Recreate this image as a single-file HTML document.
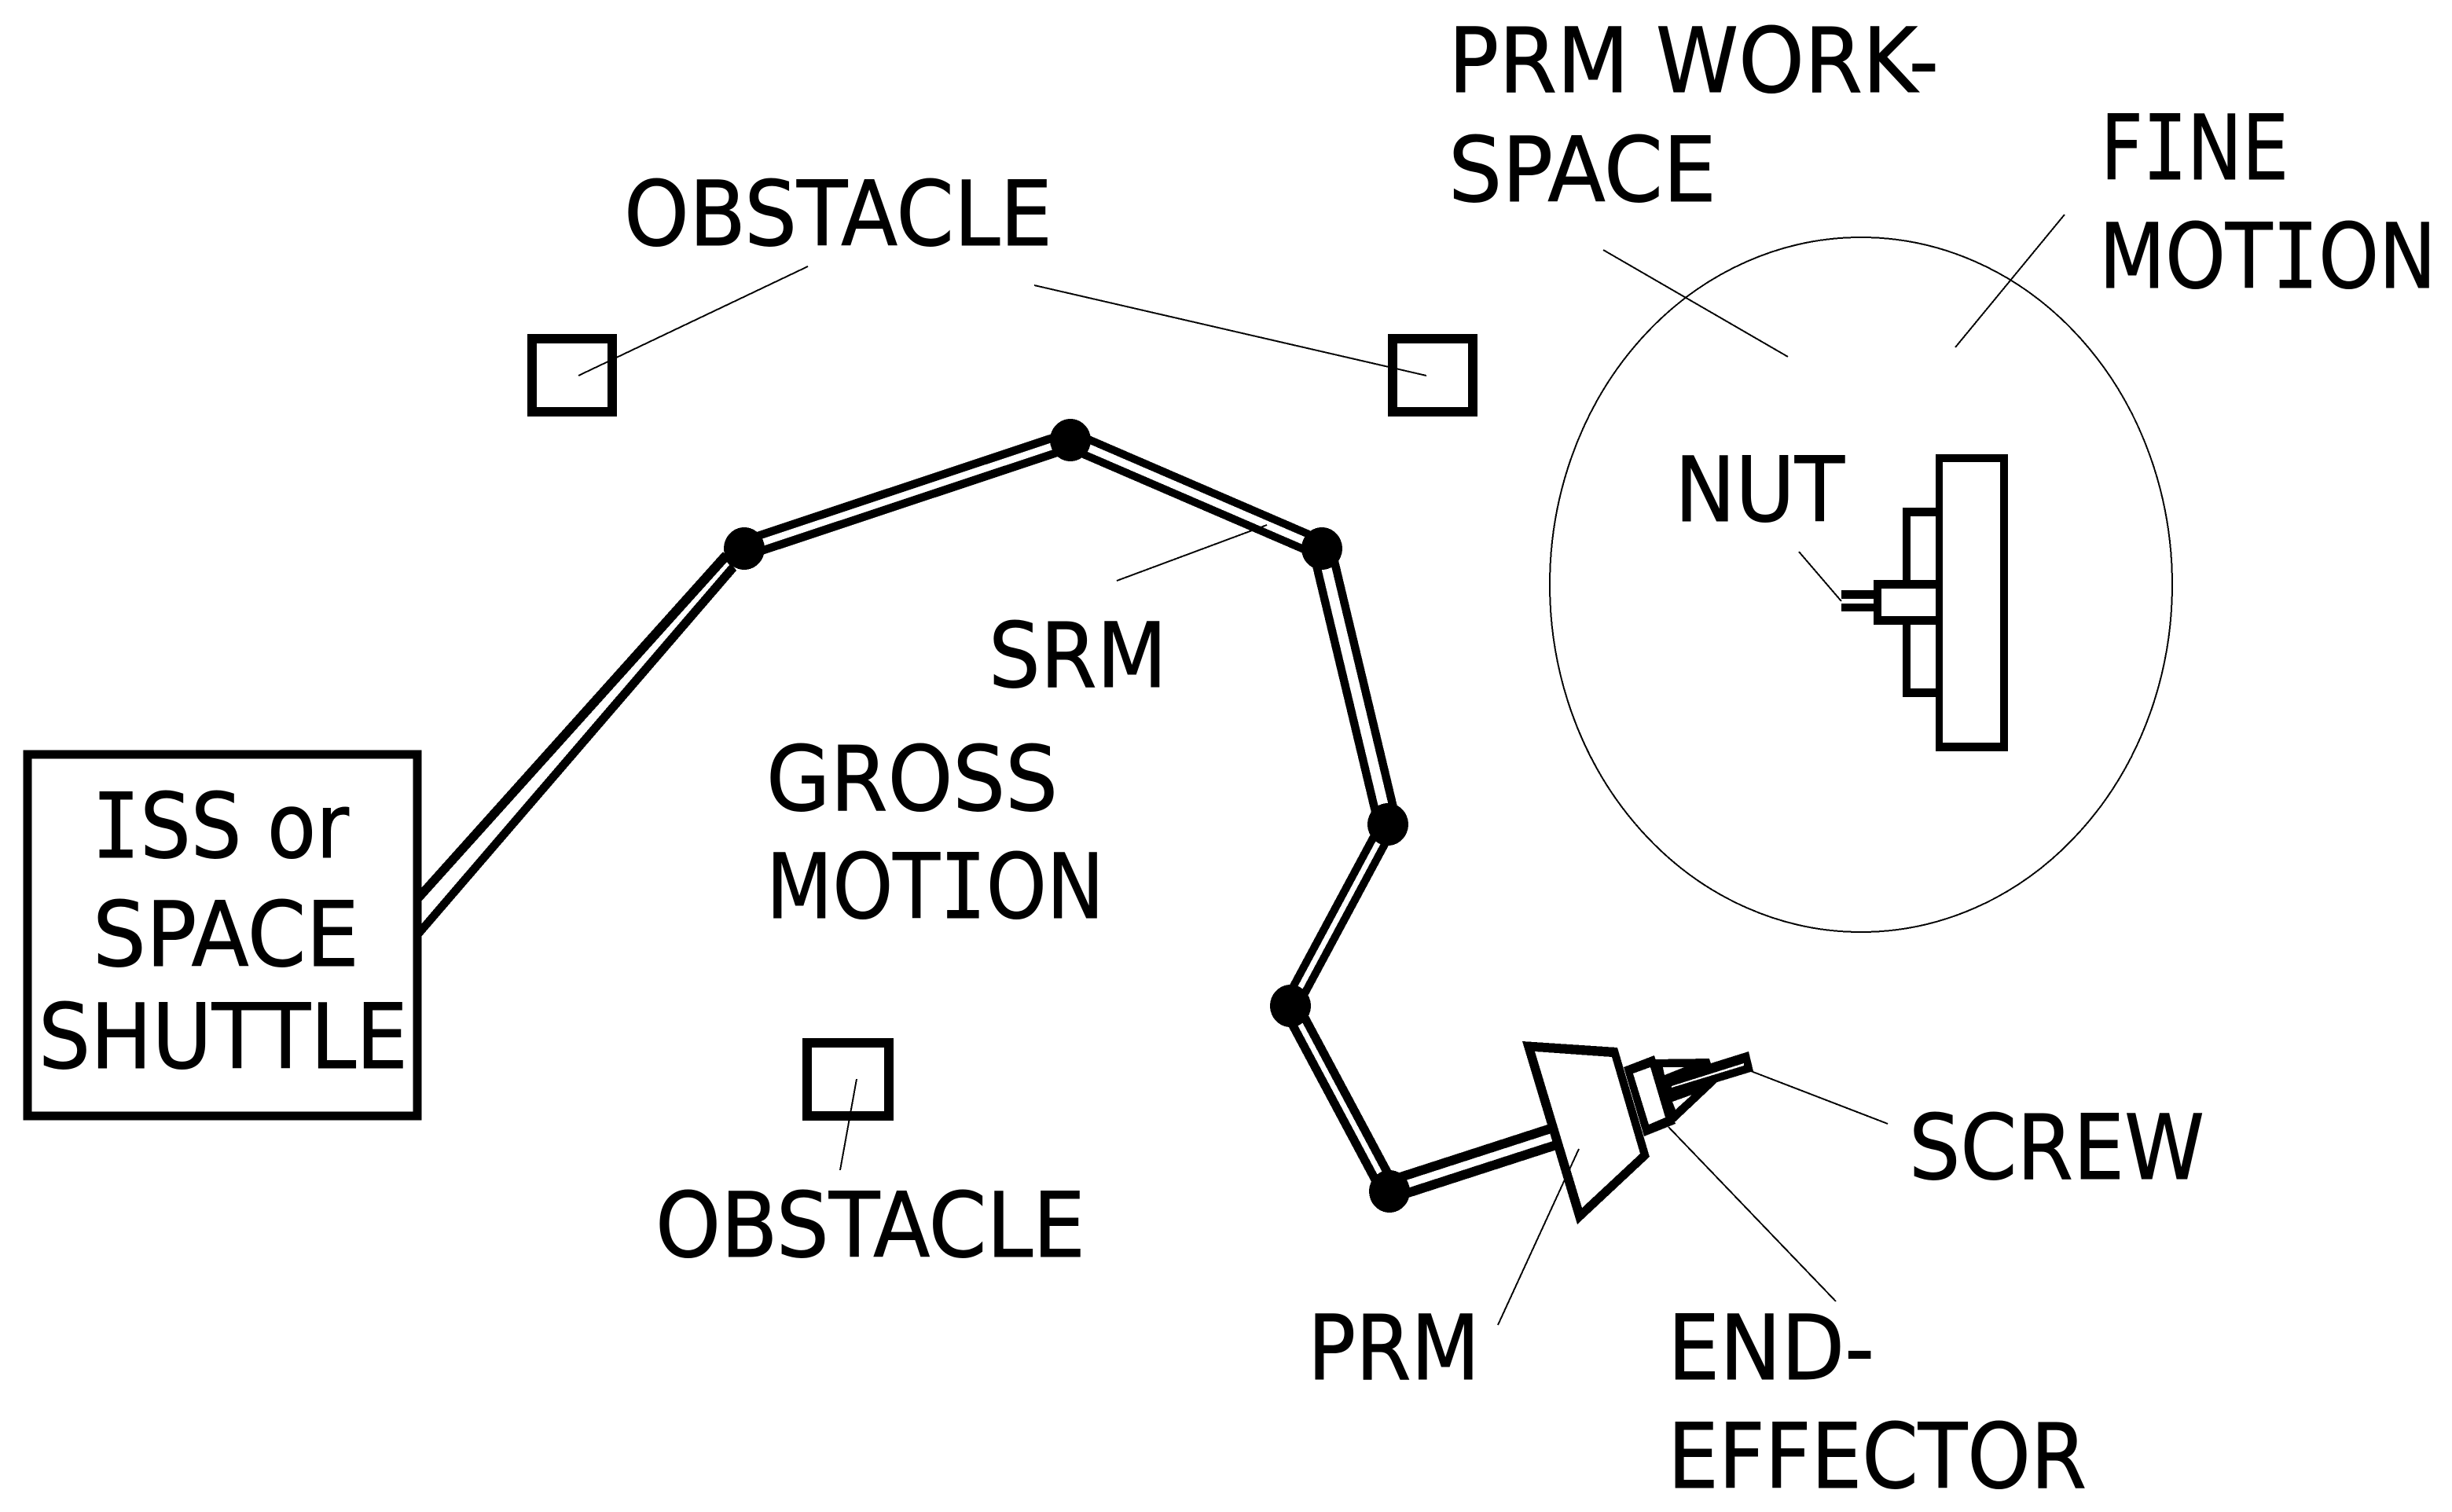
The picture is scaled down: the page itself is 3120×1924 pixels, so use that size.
<!DOCTYPE html>
<html><head><meta charset="utf-8"><style>
html,body{margin:0;padding:0;background:#fff}
svg{display:block}
text{font-family:"DejaVu Sans","Liberation Sans",sans-serif;font-size:114px;fill:#000;stroke:#000;stroke-width:1}
.m{font-family:"DejaVu Sans Mono","Liberation Mono",monospace}
</style></head><body>
<svg xmlns="http://www.w3.org/2000/svg" width="3120" height="1924" viewBox="0 0 3120 1924">
<rect width="3120" height="1924" fill="#fff"/>
<g shape-rendering="crispEdges">
<!-- base link to the box -->
<polygon points="536,1130 920,702 937,726 536,1192" fill="#000"/>
<polygon points="536,1147 925,715 928,719 536,1176" fill="#fff"/>
<!-- box -->
<rect x="35" y="960" width="496" height="460" fill="#fff" stroke="#000" stroke-width="11"/>
<polygon points="526,1146 536,1146 536,1177 526,1177" fill="#000"/>
<!-- links -->
<g fill="none" stroke="#000">
<line x1="947" y1="698" x2="1362" y2="560" stroke-width="30"/>
<line x1="1362" y1="560" x2="1682" y2="698" stroke-width="30"/>
<line x1="1682" y1="698" x2="1766" y2="1049" stroke-width="34"/>
<line x1="1766" y1="1049" x2="1642" y2="1280" stroke-width="27"/>
<line x1="1642" y1="1280" x2="1768" y2="1516" stroke-width="29"/>
<line x1="1768" y1="1514" x2="1975" y2="1447" stroke-width="34"/>
</g>
<g fill="none" stroke="#fff">
<line x1="947" y1="698" x2="1362" y2="560" stroke-width="9"/>
<line x1="1362" y1="560" x2="1682" y2="698" stroke-width="10"/>
<line x1="1682" y1="698" x2="1766" y2="1049" stroke-width="13"/>
<line x1="1766" y1="1049" x2="1642" y2="1280" stroke-width="7"/>
<line x1="1642" y1="1280" x2="1768" y2="1516" stroke-width="7"/>
<line x1="1768" y1="1514" x2="1975" y2="1447" stroke-width="10"/>
</g>
<!-- joints -->
<g fill="#000">
<ellipse cx="947" cy="698" rx="26" ry="27"/>
<ellipse cx="1362" cy="560" rx="26" ry="27"/>
<ellipse cx="1682" cy="698" rx="26" ry="27"/>
<ellipse cx="1766" cy="1049" rx="26" ry="27"/>
<ellipse cx="1642" cy="1280" rx="26" ry="27"/>
<ellipse cx="1768" cy="1516" rx="26" ry="27"/>
</g>
<!-- obstacles -->
<rect x="677" y="431" width="102" height="93" fill="none" stroke="#000" stroke-width="12"/>
<rect x="1772" y="431" width="102" height="93" fill="none" stroke="#000" stroke-width="12"/>
<rect x="1027" y="1327" width="104" height="93" fill="none" stroke="#000" stroke-width="12"/>
<!-- PRM workspace -->
<ellipse cx="2368" cy="744" rx="396" ry="442" fill="none" stroke="#000" stroke-width="2"/>
<!-- nut assembly -->
<rect x="2421" y="646" width="50" height="241" fill="#000"/>
<rect x="2431" y="657" width="40" height="81" fill="#fff"/>
<rect x="2431" y="795" width="40" height="81" fill="#fff"/>
<rect x="2384" y="738" width="85" height="57" fill="#000"/>
<rect x="2394" y="749" width="75" height="35" fill="#fff"/>
<rect x="2343" y="751" width="41" height="11" fill="#000"/>
<rect x="2343" y="768" width="41" height="10" fill="#000"/>
<rect x="2463" y="578" width="92" height="378" fill="#000"/>
<rect x="2472" y="588" width="73" height="357" fill="#fff"/>
<!-- PRM and end effector -->
<polygon points="2105,1348 2175,1347 2177,1353 2225,1338 2231,1363 2185,1377 2132,1427 2120,1427" fill="#000"/>
<polygon points="2116,1358 2143,1358 2118,1368" fill="#fff"/>
<polygon points="2128,1402 2153,1393 2132,1412" fill="#fff"/>
<polygon points="2127,1382 2219,1353 2219,1356 2127,1384" fill="#fff"/>
<polygon points="2066,1358 2105,1343 2132,1430 2092,1446" fill="#000"/>
<polygon points="2078,1366 2100,1358 2119,1422 2098,1431" fill="#fff"/>
<polygon points="1937,1325 2058,1333 2099,1472 2007,1558" fill="#000"/>
<polygon points="1953,1338 2051,1345 2087,1468 2013,1537" fill="#fff"/>
<!-- leaders -->
<g stroke="#000" stroke-width="2" fill="none">
<line x1="1028" y1="339" x2="736" y2="478"/>
<line x1="1316" y1="363" x2="1815" y2="478"/>
<line x1="1090" y1="1373" x2="1069" y2="1489"/>
<line x1="1421" y1="739" x2="1612" y2="668"/>
<line x1="2040" y1="318" x2="2275" y2="454"/>
<line x1="2627" y1="273" x2="2488" y2="442"/>
<line x1="2289" y1="702" x2="2343" y2="765"/>
<line x1="2228" y1="1363" x2="2402" y2="1430"/>
<line x1="2123" y1="1434" x2="2336" y2="1656"/>
<line x1="2009" y1="1462" x2="1906" y2="1686"/>
</g>
</g>
<!-- labels -->
<text x="794" y="312" textLength="545" lengthAdjust="spacingAndGlyphs">OBSTACLE</text>
<text x="834" y="1599" textLength="547" lengthAdjust="spacingAndGlyphs">OBSTACLE</text>
<text x="1843" y="117" textLength="624" lengthAdjust="spacingAndGlyphs">PRM WORK-</text>
<text x="1843" y="256" textLength="341" lengthAdjust="spacingAndGlyphs">SPACE</text>
<text x="2673" y="228" textLength="239" lengthAdjust="spacingAndGlyphs">F<tspan class="m">I</tspan>NE</text>
<text x="2671" y="366" textLength="429" lengthAdjust="spacingAndGlyphs">MOT<tspan class="m">I</tspan>ON</text>
<text x="975" y="1031" textLength="371" lengthAdjust="spacingAndGlyphs">GROSS</text>
<text x="975" y="1168" textLength="430" lengthAdjust="spacingAndGlyphs">MOT<tspan class="m">I</tspan>ON</text>
<text x="117" y="1091" textLength="327" lengthAdjust="spacingAndGlyphs"><tspan class="m">I</tspan>SS or</text>
<text x="118" y="1229" textLength="339" lengthAdjust="spacingAndGlyphs">SPACE</text>
<text x="49" y="1359" textLength="470" lengthAdjust="spacingAndGlyphs">SHUTTLE</text>
<text x="1258" y="874" textLength="227" lengthAdjust="spacingAndGlyphs">SRM</text>
<text x="2131" y="663" textLength="216" lengthAdjust="spacingAndGlyphs">NUT</text>
<text x="2429" y="1500" textLength="376" lengthAdjust="spacingAndGlyphs">SCREW</text>
<text x="1664" y="1755" textLength="219" lengthAdjust="spacingAndGlyphs">PRM</text>
<text x="2122" y="1755" textLength="263" lengthAdjust="spacingAndGlyphs">END-</text>
<text x="2122" y="1893" textLength="533" lengthAdjust="spacingAndGlyphs">EFFECTOR</text>
</svg>
</body></html>
